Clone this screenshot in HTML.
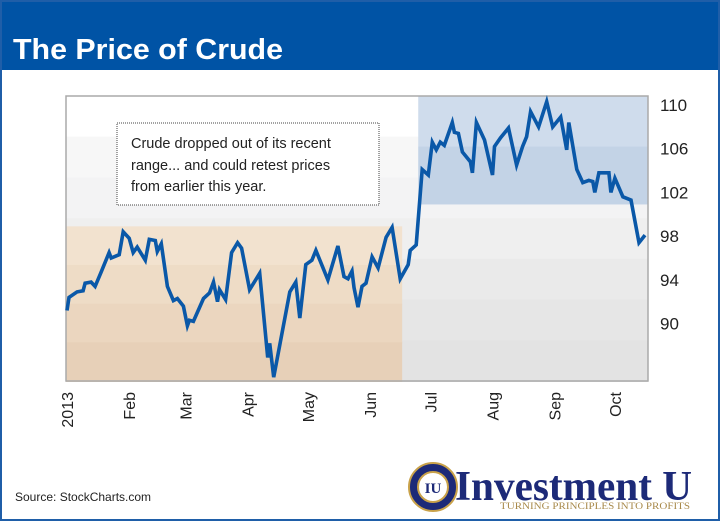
<!DOCTYPE html>
<html><head><meta charset="utf-8"><style>
body{margin:0;background:#fff}
#wrap{position:relative;width:720px;height:521px;overflow:hidden;font-family:"Liberation Sans",sans-serif}
</style></head><body>
<div id="wrap">
<svg id="svg" width="720" height="521" xmlns="http://www.w3.org/2000/svg">
<rect x="0" y="0" width="720" height="521" fill="#fff"/>
<rect x="0" y="0" width="720" height="70" fill="#0053a5"/>
<rect x="1" y="1" width="718" height="519" fill="none" stroke="#1f5ea8" stroke-width="2"/>
<text x="13" y="59" fill="#fff" font-size="29" font-weight="bold" font-family="Liberation Sans, sans-serif" textLength="270" lengthAdjust="spacingAndGlyphs">The Price of Crude</text>
<g id="plot"></g>
<g id="axes"></g>
<g>
<rect x="117" y="123" width="262" height="82" fill="#fff" stroke="#444" stroke-width="1" stroke-dasharray="1,1"/>
<text font-size="14.5" fill="#222" font-family="Liberation Sans, sans-serif">
<tspan x="131" y="148">Crude dropped out of its recent</tspan>
<tspan x="131" y="170">range... and could retest prices</tspan>
<tspan x="131" y="191">from earlier this year.</tspan></text>
</g>
<text x="15" y="501" font-size="12" fill="#222">Source: StockCharts.com</text>
<g>
<circle cx="433" cy="487" r="24" fill="#1d2a78" stroke="#c9a24a" stroke-width="2"/>
<circle cx="433" cy="487" r="15" fill="#fff" stroke="#c9a24a" stroke-width="2"/>
<text x="433" y="493" font-size="15" font-weight="bold" fill="#1d2a78" text-anchor="middle" font-family="Liberation Serif, serif">IU</text>
<text x="455" y="500" font-size="42" font-weight="bold" fill="#1d2a78" font-family="Liberation Serif, serif" textLength="237" lengthAdjust="spacingAndGlyphs">Investment U</text>
<text x="500" y="509" font-size="9" fill="#a8894a" font-family="Liberation Serif, serif" textLength="190" lengthAdjust="spacingAndGlyphs">TURNING PRINCIPLES INTO PROFITS</text>
</g>
</svg>
</div>
<script>
const days=[0,1,5,8,9,12,14,17,21,22,26,28,31,33,35,39,41,44,45,47,50,53,55,58,60,61,63,68,71,73,75,76,79,82,85,87,91,96,100,101,103,111,114,116,119,122,124,130,135,138,140,142,143,145,147,149,152,155,159,162,166,170,171,174,177,180,182,184,186,188,192,193,195,197,201,202,204,208,212,213,216,220,224,227,229,231,235,239,242,246,249,250,254,257,260,262,263,265,270,271,273,277,281,285,288];
const prices=[91.2,92.4,92.9,93.0,93.7,93.8,93.4,94.7,96.5,96.0,96.3,98.4,97.8,96.5,97.0,95.8,97.7,97.6,96.6,97.3,93.4,92.1,92.3,91.6,89.8,90.3,90.2,92.3,92.8,93.8,92.0,93.1,92.2,96.5,97.4,96.9,93.1,94.6,86.9,88.2,85.1,92.9,93.8,90.5,95.4,95.8,96.7,94.0,97.1,94.3,94.1,94.8,93.3,91.5,93.4,93.7,96.1,95.1,97.9,98.8,94.1,95.4,96.7,97.2,104.1,103.6,106.6,105.9,106.6,106.3,108.4,107.5,107.4,105.7,104.8,103.8,108.4,106.8,103.6,106.2,107.0,107.9,104.5,106.2,107.1,109.4,108.0,110.3,108.0,108.9,105.9,108.4,104.1,102.9,103.1,103.0,102.0,103.8,103.8,102.0,103.3,101.6,101.3,97.4,98.1];
const yTicks=[110,106,102,98,94,90];
const months=["2013","Feb","Mar","Apr","May","Jun","Jul","Aug","Sep","Oct"];
const monthStart=[0,31,59,90,120,151,181,212,243,273];
const L=66,R=648,T=96,B=381;
const xs=d=>67+d*2.007;
const ys=v=>105+(110-v)*10.93;
const NS="http://www.w3.org/2000/svg";
function mk(t,a,p){const e=document.createElementNS(NS,t);for(const k in a)e.setAttribute(k,a[k]);p.appendChild(e);return e;}
const plot=document.getElementById('plot'),axes=document.getElementById('axes');
const bands=["#ffffff","#f7f7f7","#f3f3f4","#efefef","#eaeaea","#e6e6e6","#e3e3e3"];
for(let i=0;i<7;i++){const y0=T+i*(B-T)/7;const r=mk('rect',{x:L,y:y0,width:R-L,height:(B-T)/7+1,fill:bands[i]},plot);

}
const tanTop=ys(98.9);
const tan=["#f2e2cf","#eedcc6","#ebd6bf","#e7d0b8"];
for(let i=0;i<4;i++){const h=(B-tanTop)/4;const r=mk('rect',{x:L,y:tanTop+i*h,width:xs(167)-L,height:h+1,fill:tan[i]},plot);

}
const blueBot=ys(100.9);
const r1=mk('rect',{x:xs(175),y:T,width:R-xs(175),height:ys(106.2)-T,fill:"#cfdcec"},plot);


const r2=mk('rect',{x:xs(175),y:ys(106.2),width:R-xs(175),height:blueBot-ys(106.2),fill:"#c3d3e6"},plot);


const fr=mk('rect',{x:L,y:T,width:R-L,height:B-T,fill:"none",stroke:"#aaa","stroke-width":1.5},plot);


let d="";days.forEach((dd,i)=>{d+=(i?"L":"M")+xs(dd).toFixed(1)+","+ys(prices[i]).toFixed(1);});
const ln=mk('path',{d:d,fill:"none",stroke:"#0a58a8","stroke-width":3.6,"stroke-linejoin":"miter"},plot);


yTicks.forEach(v=>{const t=mk('text',{x:660,y:ys(v)+6,"font-size":17,fill:"#222"},axes);t.textContent=v;

});
months.forEach((m,i)=>{const x=xs(monthStart[i])+6;const t=mk('text',{x:0,y:0,"font-size":16,fill:"#222","text-anchor":"end",transform:`translate(${x},392) rotate(-90)`},axes);t.textContent=m;

});
</script>
</body></html>
